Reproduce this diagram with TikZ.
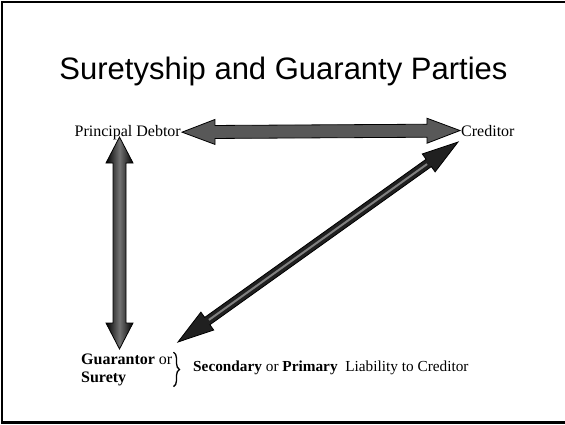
\documentclass[tikz,border=0pt]{standalone}
\usepackage{fontspec}
\setmainfont{Liberation Serif}
\newfontfamily\titlefont{Liberation Sans}
\usetikzlibrary{calc,positioning,decorations.pathreplacing}
\definecolor{arrowgray}{RGB}{88,88,88}
\definecolor{arrowdark}{RGB}{32,32,32}
% fat double arrow: style, from, to, head length, head half width, shaft half width
\newcommand{\fatarrow}[6]{%
  \path[#1] (#2) -- ($(#2)!#4!(#3)!#5!90:(#3)$) -- ($(#2)!#4!(#3)!#6!90:(#3)$)
    -- ($(#3)!#4!(#2)!#6!90:(#3)$) -- ($(#3)!#4!(#2)!#5!90:(#3)$) -- (#3)
    -- ($(#3)!#4!(#2)!#5!-90:(#3)$) -- ($(#3)!#4!(#2)!#6!-90:(#3)$)
    -- ($(#2)!#4!(#3)!#6!-90:(#3)$) -- ($(#2)!#4!(#3)!#5!-90:(#3)$) -- cycle;}

\begin{document}
\begin{tikzpicture}[x=1pt,y=-1pt]
  \tikzstyle{party}=[inner sep=1pt,font=\fontsize{16}{19}\selectfont]
  \tikzstyle{fat}=[draw=black,line width=0.8pt,line join=miter]
  \useasboundingbox (0,0) rectangle (565,424);
  \draw[line width=2.5pt] (2,2) rectangle (575,422.5);
  \node[font=\titlefont\fontsize{31}{37}\selectfont,anchor=base] (title) at (283.5,79) {Suretyship and Guaranty Parties};
  \node[party,anchor=base east] (pd) at (182,136) {Principal Debtor};
  \node[party,anchor=base west] (cr) at (460,136) {Creditor};
  \node[party,font=\fontsize{16}{18}\selectfont,anchor=base west,align=left,inner sep=0pt] (gs) at (81,382) {\textbf{Guarantor} or\\\textbf{Surety}};
  \node[party,font=\fontsize{15.3}{18}\selectfont,anchor=base west,inner sep=0pt] (liab) at (193,371.5) {\textbf{Secondary} or \textbf{Primary}\ \ Liability to Creditor};
  \draw[line width=1.3pt,decorate,decoration={brace,amplitude=6pt}] ([xshift=1pt,yshift=1pt]gs.north east) -- ([xshift=1pt,yshift=-1pt]gs.south east);
  \coordinate (vt) at (119.5,137);
  \coordinate (vb) at (119.5,349);
  \coordinate (dt) at (458,142);
  \coordinate (db) at (178,342);
  \fatarrow{fat,fill=arrowgray}{pd.east}{cr.west}{33pt}{12.5pt}{6.5pt}
  \fatarrow{fat,left color=black,right color=black,middle color=black!55}{vt}{vb}{26pt}{13.5pt}{6.5pt}
  \fatarrow{fat,fill=arrowdark}{db}{dt}{36pt}{11pt}{4.5pt}
  \draw[black!50,line width=2pt,shorten >=38pt,shorten <=38pt] (db) -- (dt);
\end{tikzpicture}
\end{document}
